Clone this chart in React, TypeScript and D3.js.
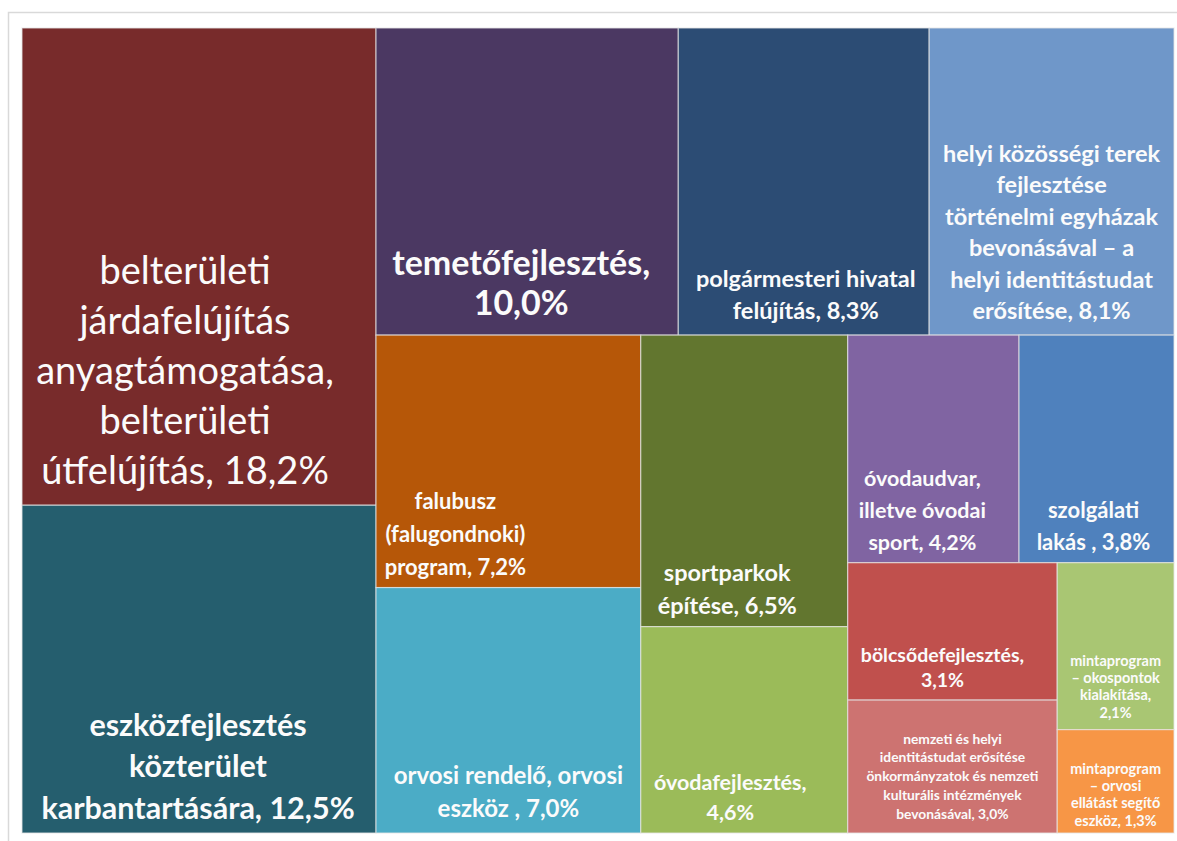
import React from "react";
import * as d3 from "d3";

const categories = [
  "belterületi járdafelújítás anyagtámogatása, belterületi útfelújítás",
  "eszközfejlesztés közterület karbantartására",
  "temetőfejlesztés",
  "polgármesteri hivatal felújítás",
  "helyi közösségi terek fejlesztése történelmi egyházak bevonásával – a helyi identitástudat erősítése",
  "falubusz (falugondnoki) program",
  "orvosi rendelő, orvosi eszköz",
  "sportparkok építése",
  "óvodafejlesztés",
  "óvodaudvar, illetve óvodai sport",
  "szolgálati lakás",
  "bölcsődefejlesztés",
  "nemzeti és helyi identitástudat erősítése önkormányzatok és nemzeti kulturális intézmények bevonásával",
  "mintaprogram – okospontok kialakítása",
  "mintaprogram – orvosi ellátást segítő eszköz",
];

const values = [18.2, 12.5, 10.0, 8.3, 8.1, 7.2, 7.0, 6.5, 4.6, 4.2, 3.8, 3.1, 3.0, 2.1, 1.3];

const labelLines = [
  ["belterületi", "járdafelújítás", "anyagtámogatása,", "belterületi", "útfelújítás, 18,2%"],
  ["eszközfejlesztés", "közterület", "karbantartására, 12,5%"],
  ["temetőfejlesztés,", "10,0%"],
  ["polgármesteri hivatal", "felújítás, 8,3%"],
  ["helyi közösségi terek", "fejlesztése", "történelmi egyházak", "bevonásával – a", "helyi identitástudat", "erősítése, 8,1%"],
  ["falubusz", "(falugondnoki)", "program, 7,2%"],
  ["orvosi rendelő, orvosi", "eszköz , 7,0%"],
  ["sportparkok", "építése, 6,5%"],
  ["óvodafejlesztés,", "4,6%"],
  ["óvodaudvar,", "illetve óvodai", "sport, 4,2%"],
  ["szolgálati", "lakás , 3,8%"],
  ["bölcsődefejlesztés,", "3,1%"],
  ["nemzeti és helyi", "identitástudat erősítése", "önkormányzatok és nemzeti", "kulturális intézmények", "bevonásával, 3,0%"],
  ["mintaprogram", "– okospontok", "kialakítása,", "2,1%"],
  ["mintaprogram", "– orvosi", "ellátást segítő", "eszköz, 1,3%"],
];

const colors = [
  "#782b2b", "#255e6e", "#4b3862", "#2c4c74", "#6f97c9",
  "#b65708", "#4bacc6", "#62762f", "#9bbb59", "#8064a2",
  "#4f81bd", "#c0504d", "#cd7371", "#a9c673", "#f79646",
];

// label styling: [fontSize, bold, dx, dy, lineHeight]
const labelStyle: [number, boolean, number, number, number][] = [
  [38, false, -14, 102, 50],
  [30.5, true, -1, 96, 41.5],
  [34, true, -6, 100, 40],
  [23.5, true, 2, 112, 32],
  [23.5, true, 0, 50, 31.5],
  [22, true, -53, 72, 33],
  [24, true, 0, 81, 33],
  [23.5, true, -17, 108, 33],
  [21.5, true, -14, 67, 30],
  [21.5, true, -11, 61, 32],
  [22, true, -3, 77, 32],
  [19.5, true, -10, 36, 25],
  [13.8, true, 0, 9, 18.75],
  [14.5, true, 0, 40, 17.3],
  [14.5, true, 0, 13, 17.3],
];

const W = 1177;
const H = 841;
const X0 = 22, Y0 = 28, X1 = 1174, Y1 = 833;

export default function App() {
  const data = categories.map((name, i) => ({ name, value: values[i], idx: i }));
  const root = d3
    .hierarchy<any>({ children: data })
    .sum((d: any) => d.value || 0);
  d3.treemap<any>()
    .tile(d3.treemapSquarify.ratio(1))
    .size([X1 - X0, Y1 - Y0])
    .paddingInner(0)(root);
  const leaves = root.leaves() as any[];

  return (
    <svg
      width={W}
      height={H}
      style={{ position: "absolute", left: 0, top: 0, background: "#fff" }}
      fontFamily="Lato, 'Open Sans', sans-serif"
    >
      <rect x={8.5} y={12.5} width={1180} height={840} fill="#fff" stroke="#d9d9d9" strokeWidth={1.5} />
      <g transform={`translate(${X0},${Y0})`}>
        {leaves.map((lf) => {
          const i = lf.data.idx;
          return (
            <rect
              key={"r" + i}
              x={lf.x0}
              y={lf.y0}
              width={lf.x1 - lf.x0}
              height={lf.y1 - lf.y0}
              fill={colors[i]}
              stroke="#e6e6e6"
              strokeOpacity={0.7}
              strokeWidth={1.2}
            />
          );
        })}
        {leaves.map((lf) => {
          const i = lf.data.idx;
          const [fs, bold, dx, dy, lh] = labelStyle[i];
          const lines = labelLines[i];
          const cx = (lf.x0 + lf.x1) / 2 + dx;
          const cy = (lf.y0 + lf.y1) / 2 + dy;
          return (
            <text
              key={"t" + i}
              fill="#fbfbfb"
              fontSize={fs}
              fontWeight={bold ? 700 : 400}
              textAnchor="middle"
            >
              {lines.map((ln, j) => (
                <tspan
                  key={j}
                  x={cx}
                  y={cy + (j - (lines.length - 1) / 2) * lh}
                  dominantBaseline="central"
                >
                  {ln}
                </tspan>
              ))}
            </text>
          );
        })}
      </g>
    </svg>
  );
}
